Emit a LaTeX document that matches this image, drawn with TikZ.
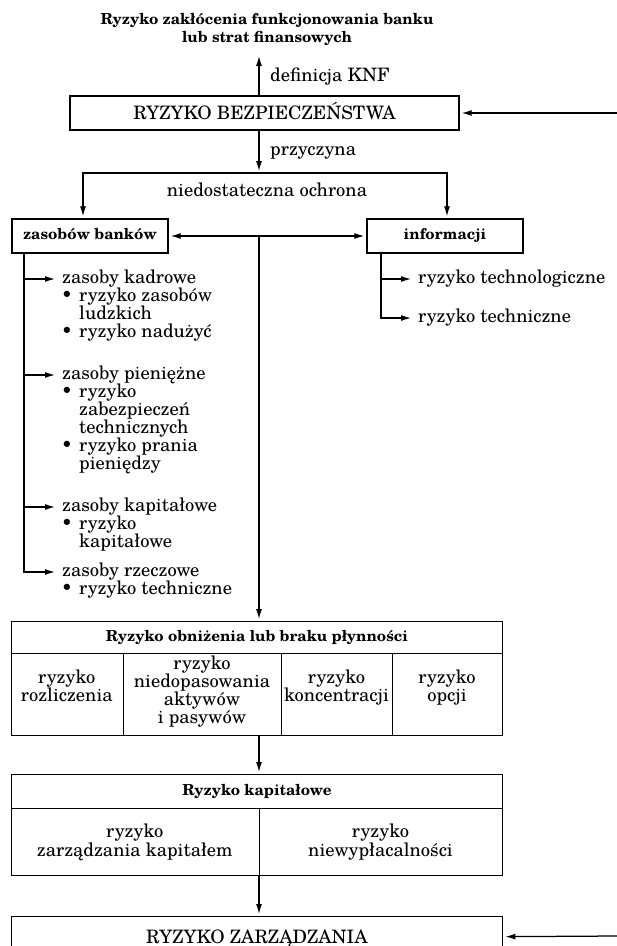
\documentclass[tikz,border=0pt]{standalone}
\usepackage{fontspec}
\setmainfont{texgyreschola}[Extension=.otf, UprightFont=*-regular, BoldFont=*-bold, ItalicFont=*-italic, BoldItalicFont=*-bolditalic]
\usetikzlibrary{arrows.meta}
\tikzset{
  ln/.style={line width=1.25pt},
  arr/.style={ln, -{Latex[length=10pt,width=6pt]}, shorten >=2pt},
  brarr/.style={ln, -{Latex[length=10pt,width=6pt]}, shorten >=7pt},
  darr/.style={ln, {Latex[length=10pt,width=6pt]}-{Latex[length=10pt,width=6pt]}, shorten >=2pt, shorten <=2pt},
  box/.style={draw, line width=1.35pt, inner sep=0pt, rectangle},
  rt/.style={inner sep=0pt, font=\fontsize{18.5}{18}\selectfont, text height=13pt, text depth=4pt},
  ct/.style={rt, text height=12pt, text depth=3.5pt},
  caps/.style={rt, text height=13.3pt, text depth=0pt},
  bt/.style={inner sep=0pt, font=\fontsize{15.2}{16}\selectfont\bfseries, text height=10.5pt, text depth=3pt},
  lw/.style={rt, anchor=west},
}
\begin{document}
\begin{tikzpicture}[x=1pt,y=-1pt]
\useasboundingbox (0,0) rectangle (617,946);
\fill[white] (0,0) rectangle (617,946);
\clip (0,0) rectangle (617,946);

% title
\node[bt] (t1) at (267,21) {Ryzyko zakłócenia funkcjonowania banku};
\node[bt] (t2) at (267,39) {lub strat finansowych};
\coordinate (ax) at (259,0);
\coordinate (tipT) at (259,56);

% security risk
\node[box, caps, minimum width=389pt, minimum height=34pt] (rb) at (264.5,113) {RYZYKO BEZPIECZEŃSTWA};
\draw[ln, -{Latex[length=10pt,width=6pt]}] (ax |- rb.north) -- (tipT);
\node[lw] (def) at (270,77) {definicja KNF};
\coordinate (inRB) at (617,113);
\draw[arr] (inRB) -- (rb.east);

\coordinate (brL) at (83,173);
\coordinate (brR) at (447,173);
\draw[arr] (ax |- rb.south) -- (ax |- brL);
\node[lw] (prz) at (270,151) {przyczyna};
\node[rt] (nie) at (267,192) {niedostateczna ochrona};

% zasobow / informacji
\node[box, bt, minimum width=156pt, minimum height=34pt] (zb) at (90,236) {zasobów banków};
\node[box, bt, minimum width=156pt, minimum height=34pt] (inf) at (445,236) {informacji};
\draw[darr] (brL |- zb.north) -- (brL) -- (brR) -- (brR |- inf.north);
\draw[darr] (zb.east) -- (inf.west);

% left list
\coordinate (lx) at (24,0);
\node[lw] (k1) at (62,279) {zasoby kadrowe};
\node[rt] (kb1) at (67,297) {•};
\node[lw] (k2) at (79,297) {ryzyko zasobów};
\node[lw] (k3) at (79,315) {ludzkich};
\node[rt] (kb2) at (67,333) {•};
\node[lw] (k4) at (79,333) {ryzyko nadużyć};

\node[lw] (p1) at (62,375) {zasoby pieniężne};
\node[rt] (pb1) at (67,393) {•};
\node[lw] (p2) at (79,393) {ryzyko};
\node[lw] (p3) at (79,411) {zabezpieczeń};
\node[lw] (p4) at (79,429) {technicznych};
\node[rt] (pb2) at (67,447) {•};
\node[lw] (p5) at (79,447) {ryzyko prania};
\node[lw] (p6) at (79,465) {pieniędzy};

\node[lw] (c1) at (62,507) {zasoby kapitałowe};
\node[rt] (cb1) at (67,525) {•};
\node[lw] (c2) at (79,525) {ryzyko};
\node[lw] (c3) at (79,543) {kapitałowe};

\node[lw] (r1) at (62,572) {zasoby rzeczowe};
\node[rt] (rb1) at (67,590) {•};
\node[lw] (r2) at (79,590) {ryzyko techniczne};

\draw[brarr] (lx |- zb.south) -- (lx |- r1.west) -- (r1.west);
\draw[brarr] (lx |- k1.west) -- (k1.west);
\draw[brarr] (lx |- p1.west) -- (p1.west);
\draw[brarr] (lx |- c1.west) -- (c1.west);

% right list
\coordinate (ix) at (381,0);
\node[lw] (it1) at (418,279) {ryzyko technologiczne};
\node[lw] (it2) at (418,318) {ryzyko techniczne};
\draw[brarr] (ix |- inf.south) -- (ix |- it2.west) -- (it2.west);
\draw[brarr] (ix |- it1.west) -- (it1.west);

% liquidity risk
\node[box, bt, minimum width=491.5pt, minimum height=32pt, anchor=north west] (obh) at (10.5,621) {Ryzyko obniżenia lub braku płynności};
\node[box, minimum width=112.5pt, minimum height=82pt, anchor=north west] (oc1) at (10.5,653) {};
\node[box, minimum width=158pt, minimum height=82pt, anchor=north west] (oc2) at (123,653) {};
\node[box, minimum width=111pt, minimum height=82pt, anchor=north west] (oc3) at (281,653) {};
\node[box, minimum width=110pt, minimum height=82pt, anchor=north west] (oc4) at (392,653) {};
\draw[arr] (ax |- zb.east) -- (ax |- obh.north);

\node[ct] (o1a) at (66.75,679) {ryzyko};
\node[ct] (o1b) at (66.75,697) {rozliczenia};
\node[ct] (o2a) at (202,665) {ryzyko};
\node[ct] (o2b) at (202,683) {niedopasowania};
\node[ct] (o2c) at (202,701) {aktywów};
\node[ct] (o2d) at (202,719) {i pasywów};
\node[ct] (o3a) at (336.5,679) {ryzyko};
\node[ct] (o3b) at (336.5,697) {koncentracji};
\node[ct] (o4a) at (447,679) {ryzyko};
\node[ct] (o4b) at (447,697) {opcji};

% capital risk
\node[box, bt, minimum width=491.5pt, minimum height=34pt, anchor=north west] (kph) at (10.5,774) {Ryzyko kapitałowe};
\node[box, minimum width=248.5pt, minimum height=67pt, anchor=north west] (kc1) at (10.5,808) {};
\node[box, minimum width=243pt, minimum height=67pt, anchor=north west] (kc2) at (259,808) {};
\draw[arr] (ax |- oc2.south) -- (ax |- kph.north);
\node[rt] (k1a) at (134.75,833) {ryzyko};
\node[rt] (k1b) at (134.75,852) {zarządzania kapitałem};
\node[rt] (k2a) at (380.5,833) {ryzyko};
\node[rt] (k2b) at (380.5,852) {niewypłacalności};

% management risk
\node[box, caps, minimum width=491.5pt, minimum height=40pt, anchor=north west] (rz) at (10.5,916) {RYZYKO ZARZĄDZANIA};
\draw[arr] (ax |- kc1.south) -- (ax |- rz.north);
\coordinate (inRZ) at (617,936);
\draw[arr] (inRZ) -- (rz.east);
\end{tikzpicture}
\end{document}
